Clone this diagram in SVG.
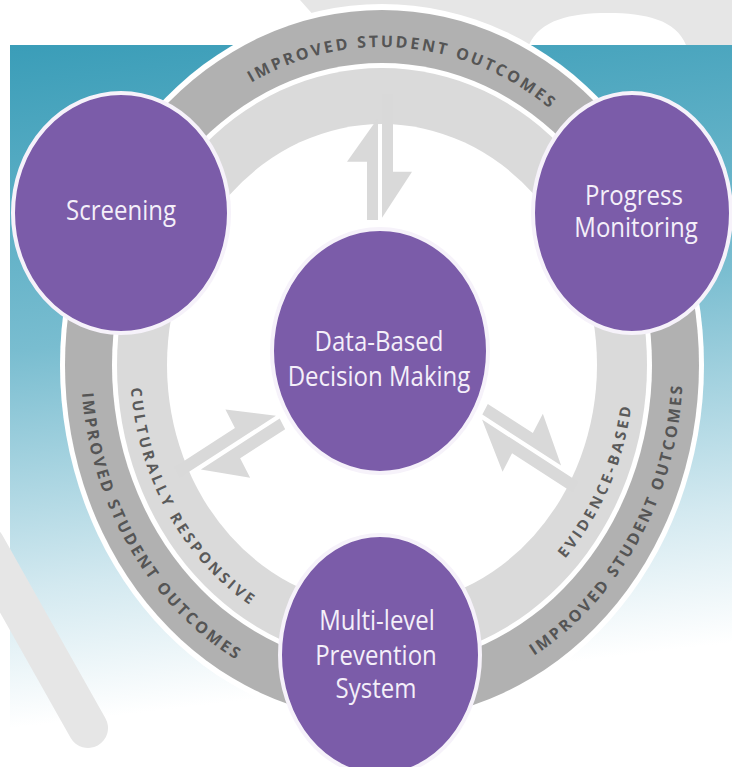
<svg xmlns="http://www.w3.org/2000/svg" xmlns:xlink="http://www.w3.org/1999/xlink" width="732" height="767" viewBox="0 0 732 767">
<defs>
<linearGradient id="bg" x1="0" y1="45" x2="80" y2="720" gradientUnits="userSpaceOnUse">
<stop offset="0" stop-color="#3a9db8"/>
<stop offset="0.45" stop-color="#79bdd0"/>
<stop offset="0.8" stop-color="#d3e9f0"/>
<stop offset="1" stop-color="#ffffff"/>
</linearGradient>
<path id="pTop" d="M 98,365 A 284 318 0 0 1 666,365"/>
<path id="pBotDark" d="M 81,365 A 301 337 0 0 0 683,365"/>
<path id="pBotLight" d="M 130,365 A 252 282 0 0 0 634,365"/>
<g id="arrow">
<polygon points="-13,-117 -2,-117 -2,-208 -33,-169 -13,-169"/>
<polygon points="2,-119 32,-160 13,-160 13,-230 2,-230"/>
</g>
</defs>
<style>
.node ellipse{fill:#7b5ca9;stroke:#f6f2fa;stroke-width:4}
.ntext{font-family:"Open Sans","Noto Sans",sans-serif;font-size:24px;fill:#f4eff9;text-anchor:middle}
.rtext{font-family:"Open Sans","Noto Sans",sans-serif;font-weight:700;font-size:16px;letter-spacing:2.6px;fill:#555}
.ltext{font-family:"Open Sans","Noto Sans",sans-serif;font-weight:700;font-size:15px;letter-spacing:3.2px;fill:#5a5a5a}
.arr{fill:#d9d9d9}
.wm{fill:#e6e6e6}
</style>
<path class="wm" d="M 300,0 H 732 V 45 H 686 C 676,20 646,13 608,13 C 570,13 540,20 529,45 H 340 Z"/>
<rect x="10" y="45" width="722" height="722" fill="url(#bg)"/>
<line x1="-15" y1="545" x2="88" y2="728" stroke="#e6e6e6" stroke-width="40" stroke-linecap="round"/>
<g id="ring">
<ellipse cx="382" cy="365" rx="322" ry="361" fill="#ffffff"/>
<ellipse cx="382" cy="365" rx="317" ry="355" fill="#b1b1b1"/>
<ellipse cx="382" cy="365" rx="270" ry="302" fill="#ffffff"/>
<ellipse cx="382" cy="365" rx="265" ry="297" fill="#dadada"/>
<ellipse cx="382" cy="365" rx="215" ry="241" fill="#ffffff"/>
<text class="rtext"><textPath xlink:href="#pTop" startOffset="52.5%" text-anchor="middle">IMPROVED STUDENT OUTCOMES</textPath></text>
<text class="rtext"><textPath xlink:href="#pBotDark" startOffset="28">IMPROVED STUDENT OUTCOMES</textPath></text>
<text class="rtext"><textPath xlink:href="#pBotDark" startOffset="984" text-anchor="end">IMPROVED STUDENT OUTCOMES</textPath></text>
<text class="ltext"><textPath xlink:href="#pBotLight" startOffset="23">CULTURALLY RESPONSIVE</textPath></text>
<text class="ltext"><textPath xlink:href="#pBotLight" startOffset="800" text-anchor="end">EVIDENCE-BASED</textPath></text>
</g>
<g id="connectors" class="arr">
<use xlink:href="#arrow" transform="translate(380,351) scale(1,1.12)"/>
<use xlink:href="#arrow" transform="translate(380,351) scale(1,1.12) rotate(-120)"/>
<use xlink:href="#arrow" transform="translate(380,351) scale(1,1.12) rotate(120)"/>
</g>
<g id="screening" class="node">
<ellipse cx="121" cy="213" rx="108" ry="120"/>
<text class="ntext" transform="translate(121,220) scale(1,1.15)">Screening</text>
</g>
<g id="progress-monitoring" class="node">
<ellipse cx="632" cy="213" rx="99" ry="120"/>
<text class="ntext" transform="translate(634,205) scale(1,1.15)">Progress</text>
<text class="ntext" transform="translate(636,237) scale(1,1.15)">Monitoring</text>
</g>
<g id="data-based-decision-making" class="node">
<ellipse cx="380" cy="351" rx="108" ry="122"/>
<text class="ntext" transform="translate(379,351) scale(1,1.15)">Data-Based</text>
<text class="ntext" transform="translate(379,386) scale(1,1.15)">Decision Making</text>
</g>
<g id="multi-level-prevention-system" class="node">
<ellipse cx="380" cy="655" rx="100" ry="120"/>
<text class="ntext" transform="translate(377,630) scale(1,1.15)">Multi-level</text>
<text class="ntext" transform="translate(376,665) scale(1,1.15)">Prevention</text>
<text class="ntext" transform="translate(376,698) scale(1,1.15)">System</text>
</g>
</svg>
